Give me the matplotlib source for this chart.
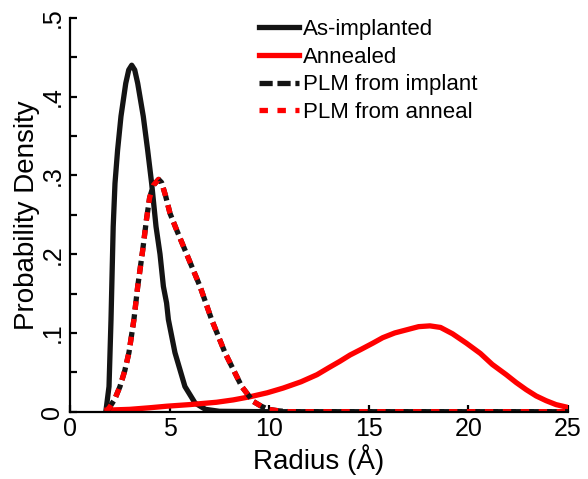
import matplotlib
matplotlib.use('Agg')
import matplotlib.pyplot as plt
from matplotlib.ticker import MultipleLocator, FuncFormatter

plt.rcParams['font.family'] = ['Liberation Sans', 'DejaVu Sans']

# values
implant_r = [1.8, 1.96, 2.06, 2.17, 2.26, 2.39, 2.56, 2.8, 2.95, 3.1, 3.25, 3.4,
             3.68, 3.9, 4.1, 4.32, 4.52, 4.69, 4.85, 4.94, 5.27, 5.77, 6.28, 6.8,
             7.5, 10, 15, 20, 25]
implant_p = [0.0, 0.032, 0.117, 0.235, 0.29, 0.332, 0.375, 0.417, 0.434, 0.44, 0.434, 0.417,
             0.375, 0.332, 0.29, 0.235, 0.2, 0.159, 0.138, 0.117, 0.075, 0.032, 0.011, 0.003,
             0.0005, 0.0, 0.0, 0.0, 0.0]

anneal_r = [1.85, 3.0, 4.0, 4.87, 6.0, 7.36, 8.2, 9.04, 9.9, 10.7, 11.6, 12.4,
            13.0, 13.55, 14.06, 14.6, 15.2, 15.7, 16.3, 16.9, 17.5, 18.07, 18.6, 19.2,
            19.9, 20.6, 21.2, 21.9, 22.4, 22.9, 23.4, 23.9, 24.4, 24.9]
anneal_p = [0.002, 0.003, 0.005, 0.007, 0.009, 0.012, 0.015, 0.019, 0.024, 0.03, 0.038, 0.047,
            0.056, 0.064, 0.072, 0.079, 0.087, 0.094, 0.1, 0.104, 0.108, 0.109, 0.107, 0.099,
            0.087, 0.074, 0.06, 0.047, 0.037, 0.028, 0.02, 0.014, 0.009, 0.006]

plm_r = [1.8, 2.0, 2.25, 2.51, 2.75, 2.96, 3.21, 3.4, 3.65, 3.84, 4.0, 4.2,
         4.45, 4.6, 4.8, 5.02, 5.35, 5.86, 6.53, 7.11, 7.78, 8.62, 9.2, 9.6,
         9.95, 10.5, 11, 15, 20, 25]
plm_implant_p = [0.0, 0.006, 0.016, 0.032, 0.052, 0.075, 0.117, 0.159, 0.205, 0.244, 0.272, 0.288,
                 0.295, 0.291, 0.274, 0.252, 0.231, 0.2, 0.159, 0.117, 0.075, 0.032, 0.013, 0.007,
                 0.003, 0.001, 0.0, 0.0, 0.0, 0.0]
plm_anneal_p = [0.0, 0.006, 0.016, 0.032, 0.052, 0.075, 0.117, 0.159, 0.205, 0.244, 0.272, 0.288,
                0.295, 0.291, 0.274, 0.252, 0.231, 0.2, 0.159, 0.117, 0.075, 0.032, 0.013, 0.007,
                0.003, 0.001, 0.0, 0.0, 0.0, 0.0]

fig = plt.figure(figsize=(5.88, 4.79), dpi=100)
ax = fig.add_axes([0.119, 0.1405, 0.847, 0.822])

lw = 3.8
ax.plot(implant_r, implant_p, color='#141414', lw=lw, label='As-implanted')
ax.plot(anneal_r, anneal_p, color='#ff0000', lw=lw, label='Annealed')
ax.plot(plm_r, plm_implant_p, color='#141414', lw=lw, dashes=(2.5, 0.9),
        label='PLM from implant')
ax.plot(plm_r, plm_anneal_p, color='#ff0000', lw=lw, dashes=(1.6, 1.8),
        label='PLM from anneal')

ax.set_xlim(0, 25)
ax.set_ylim(0, 0.5)
ax.xaxis.set_major_locator(MultipleLocator(5))
ax.yaxis.set_major_locator(MultipleLocator(0.1))
ax.yaxis.set_minor_locator(MultipleLocator(0.05))
ax.yaxis.set_major_formatter(FuncFormatter(
    lambda v, p: '0' if abs(v) < 1e-9 else ('%.1f' % v).lstrip('0')))

for s in ['top', 'right']:
    ax.spines[s].set_visible(False)
for s in ['left', 'bottom']:
    ax.spines[s].set_linewidth(1.6)

ax.tick_params(direction='in', width=1.6, length=5, labelsize=18, pad=4)
ax.tick_params(which='minor', direction='in', width=1.6, length=5)
ax.tick_params(axis='y', labelrotation=90)
for lbl in ax.get_yticklabels():
    lbl.set_va('center')

ax.set_xlabel('Radius (Å)', fontsize=20, labelpad=2)
ax.set_ylabel('Probability Density', fontsize=20, labelpad=0)

ax.legend(loc='upper left', bbox_to_anchor=(0.38, 0.997), frameon=False,
          fontsize=16, handlelength=1.8, handletextpad=0.15, labelspacing=0.3,
          borderpad=0, borderaxespad=0)

fig.savefig('out.png', dpi=100)
